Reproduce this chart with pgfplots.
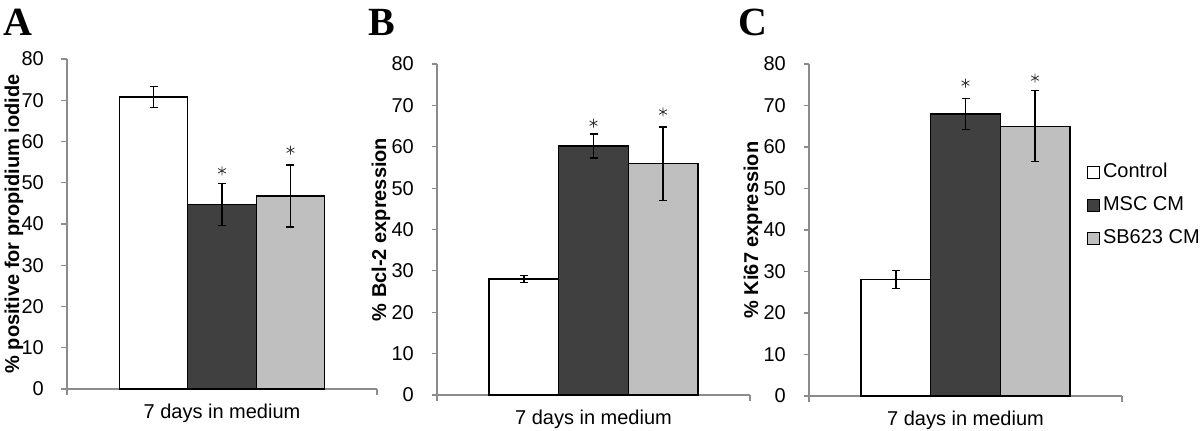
\documentclass[border=0pt]{standalone}
\usepackage{pgfplots}
\pgfplotsset{compat=1.18}
\usepackage{fontspec}
\setmainfont{Liberation Sans}
\newfontfamily\seriffont{Liberation Serif}
\definecolor{axgray}{HTML}{8C8C8C}
\definecolor{darkbar}{HTML}{404040}
\definecolor{lightbar}{HTML}{BFBFBF}
\newcommand{\fs}{\fontsize{20bp}{24bp}\selectfont}
\pgfplotsset{
  panel/.style={
    scale only axis,
    anchor=south west,
    clip=false,
    axis x line*=bottom, axis y line*=left,
    axis line style={axgray, line width=1.2bp, -},
    ymin=0, ymax=80, ytick={0,10,...,80},
    tick style={axgray, line width=1.2bp},
    tick align=outside,
    major tick length=5.5bp,
    xticklabels={},
    /pgf/number format/assume math mode=true,
    tick label style={font=\fs},
    yticklabel style={anchor=east, inner sep=0pt, xshift=-17.5bp},
    label style={font=\fs},
    xlabel={7 days in medium},
    xlabel style={at={([yshift=-24.5bp]axis description cs:0.5,0)}, anchor=center},
  },
  bars/.style={ybar, bar width=1, bar shift=0pt, draw=black, line width=1.4bp,
    error bars/y dir=both, error bars/y explicit,
    error bars/error bar style={black, line width=1.3bp},
    error bars/error mark=-,
    error bars/error mark options={rotate=90, black, line width=1.3bp, mark size=4bp}},
  stars/.style={only marks, mark=asterisk, mark size=4.5bp, black!80, mark options={line width=0.8bp}, forget plot},
  lg/.style={legend image code/.code={\draw[##1, line width=1bp] (0bp,-6bp) rectangle (12bp,6bp);}},
}
\begin{document}
\begin{tikzpicture}
\path[use as bounding box] (0,0) rectangle (1200bp,431bp);
% Panel A
\begin{axis}[panel, at={(67bp,42bp)}, width=310bp, height=330bp,
  xmin=-2.263, xmax=2.263, xtick={-2.263,2.263},
  ylabel={\bfseries \% positive for propidium iodide},
  ylabel style={at={([xshift=-53bp]axis description cs:0,0.5)}, anchor=center}]
\addplot[bars, fill=white] coordinates {(-1,70.8) +- (0,2.6)};
\addplot[bars, fill=darkbar] coordinates {(0,44.8) +- (0,5.1)};
\addplot[bars, fill=lightbar] coordinates {(1,46.8) +- (0,7.5)};
\addplot[stars] coordinates {(0,52.9) (1,57.9)};
\end{axis}
% Panel B
\begin{axis}[panel, at={(437bp,36bp)}, width=313bp, height=331bp,
  xmin=-2.25, xmax=2.25, xtick={-2.25,2.25},
  ylabel={\bfseries \% Bcl-2 expression},
  ylabel style={at={([xshift=-56bp]axis description cs:0,0.5)}, anchor=center}]
\addplot[bars, fill=white] coordinates {(-1,28.0) +- (0,0.8)};
\addplot[bars, fill=darkbar] coordinates {(0,60.2) +- (0,2.9)};
\addplot[bars, fill=lightbar] coordinates {(1,55.9) +- (0,8.85)};
\addplot[stars] coordinates {(0,65.7) (1,68.4)};
\end{axis}
% Panel C
\begin{axis}[panel, at={(809bp,35bp)}, width=313bp, height=332bp,
  xmin=-2.25, xmax=2.25, xtick={-2.25,2.25},
  ylabel={\bfseries \% Ki67 expression},
  ylabel style={at={([xshift=-56bp]axis description cs:0,0.5)}, anchor=center},
  legend style={draw=none, fill=none, font=\fs, at={(axis description cs:0.878,0.708)}, anchor=north west,
    nodes={inner sep=0pt, text height=14bp, text depth=4bp}, row sep=15bp,
    /tikz/every odd column/.style={column sep=3bp}},
  legend cell align=left]
\addplot[bars, fill=white, lg] coordinates {(-1,28.1) +- (0,2.2)};
\addlegendentry{Control}
\addplot[bars, fill=darkbar, lg] coordinates {(0,68.0) +- (0,3.7)};
\addlegendentry{MSC CM}
\addplot[bars, fill=lightbar, lg] coordinates {(1,65.0) +- (0,8.55)};
\addlegendentry{SB623 CM}
\addplot[stars] coordinates {(0,75.4) (1,76.6)};
\end{axis}
\node[anchor=base west, inner sep=0pt] at (3bp,395bp) {\seriffont\bfseries\fontsize{40bp}{40bp}\selectfont A};
\node[anchor=base west, inner sep=0pt] at (368bp,395bp) {\seriffont\bfseries\fontsize{40bp}{40bp}\selectfont B};
\node[anchor=base west, inner sep=0pt] at (738bp,395bp) {\seriffont\bfseries\fontsize{40bp}{40bp}\selectfont C};
\end{tikzpicture}
\end{document}
